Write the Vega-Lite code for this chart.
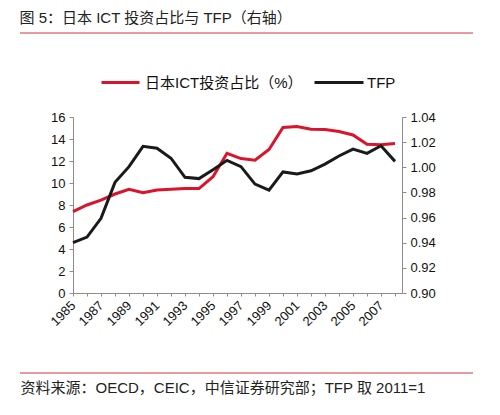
{
  "$schema": "https://vega.github.io/schema/vega-lite/v6.json",
  "width": 329,
  "height": 176,
  "autosize": {"type": "none"},
  "padding": {"left": 73, "top": 117, "right": 98, "bottom": 122},
  "background": "white",
  "config": {
    "font": "Liberation Sans, Noto Sans CJK SC, sans-serif",
    "view": {"stroke": null},
    "axis": {
      "grid": false,
      "domainColor": "#8c8c8c",
      "tickColor": "#8c8c8c",
      "labelColor": "#111111",
      "labelFontSize": 13,
      "labelFont": "Liberation Sans, Noto Sans CJK SC, sans-serif",
      "tickSize": 4,
      "labelPadding": 4
    },
    "axisX": {"labelOverlap": false}
  },
  "title": {
    "text": "图 5：日本 ICT 投资占比与 TFP（右轴）",
    "anchor": "start",
    "dx": 0,
    "dy": 16,
    "offset": 8,
    "baseline": "bottom",
    "fontSize": 15,
    "fontWeight": "normal",
    "color": "#222222",
    "font": "Liberation Sans, Noto Sans CJK SC, sans-serif"
  },
  "data": {
    "values": [
      {"year": 1985, "ict": 7.4, "tfp": 0.940},
      {"year": 1986, "ict": 8.0, "tfp": 0.9445},
      {"year": 1987, "ict": 8.45, "tfp": 0.9594},
      {"year": 1988, "ict": 9.0, "tfp": 0.988},
      {"year": 1989, "ict": 9.43, "tfp": 1.0005},
      {"year": 1990, "ict": 9.12, "tfp": 1.0167},
      {"year": 1991, "ict": 9.37, "tfp": 1.0152},
      {"year": 1992, "ict": 9.43, "tfp": 1.0072},
      {"year": 1993, "ict": 9.49, "tfp": 0.992},
      {"year": 1994, "ict": 9.49, "tfp": 0.991},
      {"year": 1995, "ict": 10.57, "tfp": 0.998},
      {"year": 1996, "ict": 12.7, "tfp": 1.0055},
      {"year": 1997, "ict": 12.22, "tfp": 1.0005},
      {"year": 1998, "ict": 12.08, "tfp": 0.9866},
      {"year": 1999, "ict": 13.05, "tfp": 0.9818},
      {"year": 2000, "ict": 15.05, "tfp": 0.9963},
      {"year": 2001, "ict": 15.13, "tfp": 0.9947},
      {"year": 2002, "ict": 14.89, "tfp": 0.9972},
      {"year": 2003, "ict": 14.86, "tfp": 1.0025},
      {"year": 2004, "ict": 14.68, "tfp": 1.009},
      {"year": 2005, "ict": 14.37, "tfp": 1.0144},
      {"year": 2006, "ict": 13.53, "tfp": 1.0111},
      {"year": 2007, "ict": 13.47, "tfp": 1.0171},
      {"year": 2008, "ict": 13.59, "tfp": 1.0047}
    ]
  },
  "encoding": {
    "x": {
      "field": "year",
      "type": "quantitative",
      "scale": {"domain": [1985, 2008.5], "nice": false, "zero": false},
      "axis": {
        "values": [1985,1986,1987,1988,1989,1990,1991,1992,1993,1994,1995,1996,1997,1998,1999,2000,2001,2002,2003,2004,2005,2006,2007,2008],
        "format": "d",
        "labelExpr": "datum.value % 2 == 1 ? datum.label : ''",
        "labelAngle": -45,
        "labelAlign": "right",
        "labelBaseline": "middle",
        "labelPadding": 7,
        "labelOverlap": false,
        "labelFlush": false,
        "tickSize": 3,
        "title": "资料来源：OECD，CEIC，中信证券研究部；TFP 取 2011=1",
        "titleX": -53,
        "titleY": 94,
        "titleAlign": "left",
        "titleAnchor": null,
        "titleBaseline": "middle",
        "titleFontSize": 15,
        "titleFontWeight": "normal",
        "titleColor": "#222222",
        "titleFont": "Liberation Sans, Noto Sans CJK SC, sans-serif"
      }
    }
  },
  "layer": [
    {
      "mark": {"type": "line", "strokeWidth": 3, "strokeJoin": "miter"},
      "encoding": {
        "y": {
          "field": "ict",
          "type": "quantitative",
          "scale": {"domain": [0, 16], "nice": false},
          "axis": {"values": [0,2,4,6,8,10,12,14,16], "title": null}
        },
        "color": {
          "datum": "日本ICT投资占比（%）",
          "type": "nominal",
          "scale": {"domain": ["日本ICT投资占比（%）"], "range": ["#d9142b"]},
          "legend": {
            "title": null,
            "orient": "none",
            "legendX": 27,
            "legendY": -55,
            "symbolType": "stroke",
            "symbolSize": 1444,
            "symbolStrokeWidth": 3,
            "labelFontSize": 15,
            "labelColor": "#111111",
            "labelOffset": 4,
            "labelFont": "Liberation Sans, Noto Sans CJK SC, sans-serif"
          }
        }
      }
    },
    {
      "mark": {"type": "line", "strokeWidth": 3, "strokeJoin": "miter"},
      "encoding": {
        "y": {
          "field": "tfp",
          "type": "quantitative",
          "scale": {"domain": [0.9, 1.04], "nice": false, "zero": false},
          "axis": {"orient": "right", "values": [0.9,0.92,0.94,0.96,0.98,1.0,1.02,1.04], "format": ".2f", "title": null}
        },
        "stroke": {
          "datum": "TFP",
          "type": "nominal",
          "scale": {"domain": ["TFP"], "range": ["#1a1a1a"]},
          "legend": {
            "title": null,
            "orient": "none",
            "legendX": 240,
            "legendY": -60.5,
            "symbolType": "stroke",
            "symbolSize": 2401,
            "symbolStrokeWidth": 3,
            "labelFontSize": 15,
            "labelColor": "#111111",
            "labelOffset": 2,
            "labelFont": "Liberation Sans, Noto Sans CJK SC, sans-serif"
          }
        }
      }
    },
    {
      "data": {"values": [{"pos": "top"}]},
      "mark": {"type": "rule", "color": "#d0343c", "strokeWidth": 1},
      "encoding": {"x": {"value": -53}, "x2": {"value": 400}, "y": {"value": -84}}
    },
    {
      "data": {"values": [{"pos": "bottom"}]},
      "mark": {"type": "rule", "color": "#d0343c", "strokeWidth": 1},
      "encoding": {"x": {"value": -53}, "x2": {"value": 400}, "y": {"value": 256}}
    }
  ],
  "resolve": {"scale": {"y": "independent"}}
}
